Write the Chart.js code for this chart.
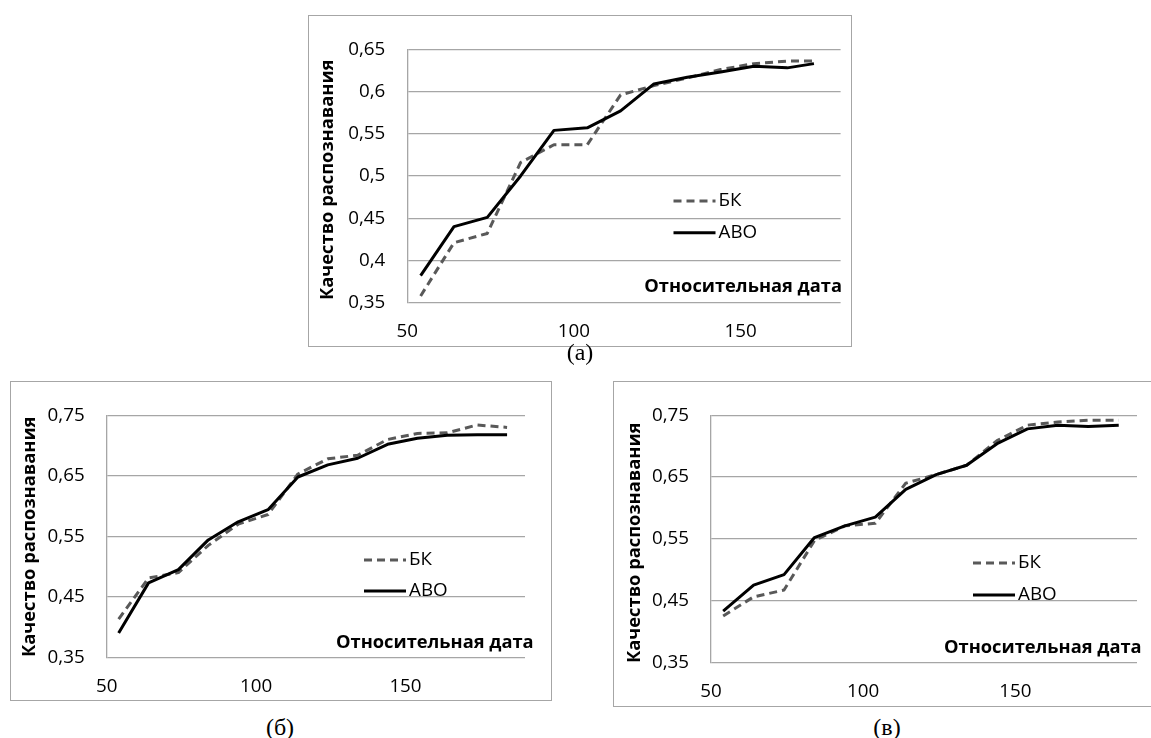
<!DOCTYPE html>
<html><head><meta charset="utf-8">
<script src="https://cdn.jsdelivr.net/npm/chart.js@4.4.1/dist/chart.umd.min.js"></script>
<style>
html,body{margin:0;padding:0;background:#fff;width:1151px;height:738px;overflow:hidden;position:relative;}
.frame{position:absolute;box-sizing:border-box;border:1px solid #a6a6a6;background:#fff;}
.frame canvas{display:block}
.cap{position:absolute;font-family:"Liberation Serif","DejaVu Serif",serif;font-size:24px;color:#000;transform:translate(-50%,-50%);white-space:nowrap;line-height:1}
</style></head><body>
<div class="frame" style="left:308px;top:15px;width:544px;height:332px"><canvas id="ca"></canvas></div>
<div class="frame" style="left:10px;top:381px;width:542px;height:320px"><canvas id="cb"></canvas></div>
<div class="frame" style="left:613px;top:381px;width:560px;height:326px"><canvas id="cv"></canvas></div>
<div class="cap" id="capA" style="left:580px;top:352px"></div>
<div class="cap" id="capB" style="left:280px;top:727px"></div>
<div class="cap" id="capV" style="left:887px;top:727px"></div>
<script>
// ---- data ----
const seriesNames = ['БК', 'АВО'];
const captions = ['(а)', '(б)', '(в)'];
const yTitle = 'Качество распознавания';
const xTitle = 'Относительная дата';
const xTicks = [50, 100, 150];
const yTicksA = [0.35, 0.4, 0.45, 0.5, 0.55, 0.6, 0.65];
const yTicksBV = [0.35, 0.45, 0.55, 0.65, 0.75];

const xA = [54, 64, 74, 84, 94, 104, 114, 124, 134, 144, 154, 164, 172];
const bkA = [0.358, 0.421, 0.432, 0.516, 0.537, 0.537, 0.596, 0.607, 0.616, 0.626, 0.633, 0.636, 0.636];
const aboA = [0.382, 0.440, 0.451, 0.500, 0.554, 0.557, 0.577, 0.609, 0.617, 0.623, 0.630, 0.628, 0.633];

const xB = [54, 64, 74, 84, 94, 104, 114, 124, 134, 144, 154, 164, 174, 184];
const bkB = [0.413, 0.481, 0.490, 0.535, 0.570, 0.586, 0.653, 0.678, 0.684, 0.710, 0.720, 0.721, 0.734, 0.730];
const aboB = [0.390, 0.473, 0.495, 0.544, 0.574, 0.594, 0.648, 0.668, 0.679, 0.702, 0.712, 0.717, 0.718, 0.718];

const xV = [54, 64, 74, 84, 94, 104, 114, 124, 134, 144, 154, 164, 174, 184];
const bkV = [0.425, 0.456, 0.467, 0.547, 0.571, 0.575, 0.640, 0.654, 0.669, 0.709, 0.734, 0.739, 0.742, 0.742];
const aboV = [0.433, 0.475, 0.492, 0.552, 0.571, 0.585, 0.630, 0.654, 0.669, 0.704, 0.728, 0.734, 0.732, 0.734];

// ---- layout / style ----
const FONT = '"Open Sans","Noto Sans","DejaVu Sans",sans-serif';
const TICK_SIZE = 18.8, TITLE_SIZE = 18.3;
const GRID = '#a6a6a6';

const geoA = {frame:{L:308,T:15,W:544,H:332}, plot:{l:407.3,t:29.7,r:840.6,b:302.7}, xMax:180, yMin:0.35, yMax:0.65,
  legend:{x:673.5, ys:[201,232.7]}, xT:{x:644.3,y:286.7}, yT:{x:333,y:300}};
const geoB = {frame:{L:10,T:381,W:542,H:320}, plot:{l:106.7,t:394.3,r:525,b:657.3}, xMax:190, yMin:0.35, yMax:0.75,
  legend:{x:364, ys:[560,591]}, xT:{x:336,y:643}, yT:{x:35,y:657}};
const geoV = {frame:{L:613,T:381,W:560,H:326}, plot:{l:711,t:394.7,r:1137,b:662.3}, xMax:190, yMin:0.35, yMax:0.75,
  legend:{x:973, ys:[563,595]}, xT:{x:944,y:648}, yT:{x:640,y:663}};

const decor = {
  id: 'decor',
  afterDatasetsDraw(chart, args, opts) {
    const g = opts.geo; if (!g) return;
    const ctx = chart.ctx;
    const ox = g.frame.L + 1, oy = g.frame.T + 1;
    ctx.save();
    chart.data.datasets.forEach((ds, i) => {
      const y = g.legend.ys[i] - oy, x0 = g.legend.x - ox;
      ctx.beginPath();
      ctx.strokeStyle = ds.borderColor; ctx.lineWidth = ds.borderWidth;
      ctx.setLineDash(ds.borderDash || []);
      ctx.moveTo(x0, y); ctx.lineTo(x0 + 42, y); ctx.stroke();
      ctx.setLineDash([]);
      ctx.fillStyle = '#000'; ctx.font = TICK_SIZE + 'px ' + FONT;
      ctx.textAlign = 'left'; ctx.textBaseline = 'middle';
      ctx.fillText(ds.label, x0 + 45, y);
    });
    ctx.font = 'bold ' + TITLE_SIZE + 'px ' + FONT;
    ctx.fillStyle = '#000'; ctx.textAlign = 'left'; ctx.textBaseline = 'middle';
    ctx.fillText(xTitle, g.xT.x - ox, g.xT.y - oy);
    ctx.translate(g.yT.x - ox, g.yT.y - oy);
    ctx.rotate(-Math.PI / 2);
    ctx.textBaseline = 'alphabetic';
    ctx.fillText(yTitle, 0, 0);
    ctx.restore();
  }
};

function makeChart(id, g, xs, bk, abo, yTicks) {
  const W = g.frame.W - 2, H = g.frame.H - 2;
  const ox = g.frame.L + 1, oy = g.frame.T + 1;
  return new Chart(document.getElementById(id), {
    type: 'scatter',
    data: { datasets: [
      { label: seriesNames[0], data: xs.map((x, i) => ({x: x, y: bk[i]})), showLine: true,
        borderColor: '#595959', borderWidth: 3, borderDash: [8, 5], pointRadius: 0, pointHoverRadius: 0,
        tension: 0, order: 1, borderJoinStyle: 'round' },
      { label: seriesNames[1], data: xs.map((x, i) => ({x: x, y: abo[i]})), showLine: true,
        borderColor: '#000000', borderWidth: 3, pointRadius: 0, pointHoverRadius: 0,
        tension: 0, order: 0, borderJoinStyle: 'round' }
    ]},
    options: {
      responsive: true, maintainAspectRatio: false, animation: false, events: [],
      layout: { padding: { left: 0, top: g.plot.t - oy, right: ox + W - g.plot.r, bottom: 0 } },
      plugins: { legend: { display: false }, tooltip: { enabled: false }, decor: { geo: g } },
      scales: {
        x: { type: 'linear', min: 50, max: g.xMax,
          afterBuildTicks: s => { s.ticks = xTicks.map(v => ({value: v})); },
          afterFit: s => { s.height = oy + H - g.plot.b; },
          grid: { display: false, drawTicks: false }, border: { display: false },
          ticks: { padding: 18, color: '#000', font: { family: FONT, size: TICK_SIZE } } },
        y: { type: 'linear', min: g.yMin, max: g.yMax,
          afterBuildTicks: s => { s.ticks = yTicks.map(v => ({value: v})); },
          afterFit: s => { s.width = g.plot.l - ox; },
          grid: { color: GRID, lineWidth: 1.3, drawTicks: false },
          border: { display: true, color: GRID, width: 1.3 },
          ticks: { padding: 22, color: '#000', font: { family: FONT, size: TICK_SIZE },
            callback: v => String(v).replace('.', ',') } }
      }
    },
    plugins: [decor]
  });
}

makeChart('ca', geoA, xA, bkA, aboA, yTicksA);
makeChart('cb', geoB, xB, bkB, aboB, yTicksBV);
makeChart('cv', geoV, xV, bkV, aboV, yTicksBV);
document.getElementById('capA').textContent = captions[0];
document.getElementById('capB').textContent = captions[1];
document.getElementById('capV').textContent = captions[2];
</script>
</body></html>
